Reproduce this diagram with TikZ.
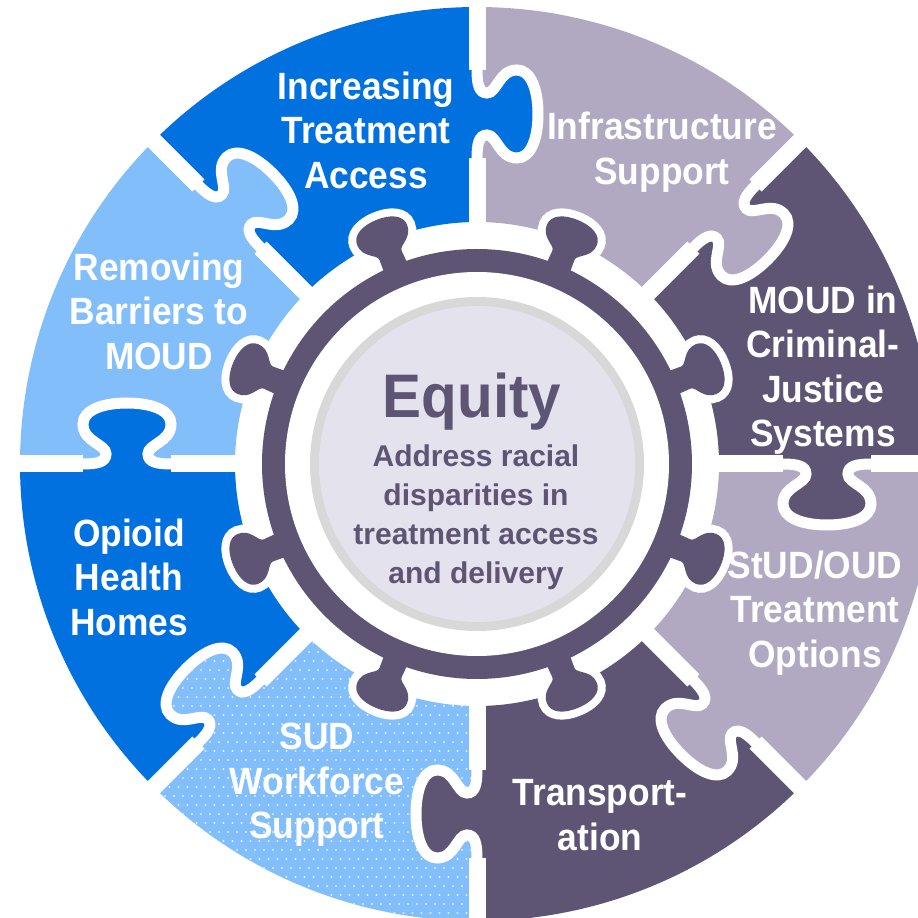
\documentclass[tikz,border=0pt]{standalone}
\usepackage{fontspec}
\newfontfamily\labfont{Liberation Sans}[FakeStretch=0.93]
\newfontfamily\eqfont{Liberation Sans}[FakeStretch=0.95]
\newfontfamily\subfont{Liberation Sans}
\definecolor{cblue}{RGB}{0,113,222}
\definecolor{clblue}{RGB}{130,190,250}
\definecolor{clgrey}{RGB}{177,169,194}
\definecolor{cdark}{RGB}{94,85,117}
\definecolor{cfill}{RGB}{228,226,236}
\definecolor{cborder}{RGB}{216,216,216}
\tikzset{
  lab/.style={text=white, align=center, font={\labfont\bfseries\fontsize{38}{44.5}\selectfont}},
  eqtext/.style={text=cdark, font={\eqfont\bfseries\fontsize{61.5}{70}\selectfont}},
  subtext/.style={text=cdark, align=center, font={\subfont\bfseries\fontsize{30}{38.9}\selectfont}},
  gapline/.style={white, line width=17},
  tabline/.style={white, line width=11},
  dotmark/.style={white, opacity=0.75}
}
\begin{document}
\begin{tikzpicture}[x=1pt,y=1pt]
\useasboundingbox (-477,-454) rectangle (441,464);
% sectors
\foreach \k/\c in {0/cdark,1/clgrey,2/cblue,3/clblue,4/cblue,5/clblue,6/cdark,7/clgrey}{
  \fill[\c] (45*\k:242) arc[start angle=45*\k, end angle=45*\k+45, radius=242]
     -- (45*\k+45:457) arc[start angle=45*\k+45, end angle=45*\k, radius=457] -- cycle;
}
% tabs (owned by the piece above each boundary)
\foreach \k/\c in {0/cdark,1/clgrey,2/cblue,3/clblue,4/cblue,5/clblue,6/cdark,7/clgrey}{
  \begin{scope}[rotate=45*\k]
  \fill[\c] (300,1) -- (306,0) .. controls (320,0) and (329,-2) .. (329,-10)
     .. controls (329,-20) and (306,-22) .. (306,-40)
     .. controls (306,-54) and (326,-61) .. (350,-61)
     .. controls (374,-61) and (394,-54) .. (394,-40)
     .. controls (394,-22) and (371,-20) .. (371,-10)
     .. controls (371,-2) and (380,0) .. (394,0) -- (400,1) -- cycle;
  \end{scope}
}
% dots in SUD piece
\begin{scope}
  \clip (225:242) arc[start angle=225, end angle=270, radius=242]
     -- (270:457) arc[start angle=270, end angle=225, radius=457] -- cycle;
  \foreach \j in {0,...,52}{
    \foreach \i in {0,...,37}{
      \fill[dotmark] ({-330+9*\i+4.5*mod(\j,2)},{-458+9*\j}) circle[radius=1.1];
    }
  }
\end{scope}
\begin{scope}[rotate=225]
  \clip (300,1) -- (306,0) .. controls (320,0) and (329,-2) .. (329,-10)
     .. controls (329,-20) and (306,-22) .. (306,-40)
     .. controls (306,-54) and (326,-61) .. (350,-61)
     .. controls (374,-61) and (394,-54) .. (394,-40)
     .. controls (394,-22) and (371,-20) .. (371,-10)
     .. controls (371,-2) and (380,0) .. (394,0) -- (400,1) -- cycle;
  \begin{scope}[rotate=-225]
  \foreach \j in {16,...,34}{
    \foreach \i in {0,...,16}{
      \fill[dotmark] ({-330+9*\i+4.5*mod(\j,2)},{-458+9*\j}) circle[radius=1.1];
    }
  }
  \end{scope}
\end{scope}
% redraw transportation tab over the dots
\begin{scope}[rotate=270]
  \fill[cdark] (300,1) -- (306,0) .. controls (320,0) and (329,-2) .. (329,-10)
     .. controls (329,-20) and (306,-22) .. (306,-40)
     .. controls (306,-54) and (326,-61) .. (350,-61)
     .. controls (374,-61) and (394,-54) .. (394,-40)
     .. controls (394,-22) and (371,-20) .. (371,-10)
     .. controls (371,-2) and (380,0) .. (394,0) -- (400,1) -- cycle;
\end{scope}
% white gaps
\foreach \k in {0,...,7}{
  \begin{scope}[rotate=45*\k]
  \draw[gapline] (228,0) -- (306,0) (394,0) -- (472,0);
  \draw[tabline] (304,0) -- (306,0) .. controls (320,0) and (329,-2) .. (329,-10)
     .. controls (329,-20) and (306,-22) .. (306,-40)
     .. controls (306,-54) and (326,-61) .. (350,-61)
     .. controls (374,-61) and (394,-54) .. (394,-40)
     .. controls (394,-22) and (371,-20) .. (371,-10)
     .. controls (371,-2) and (380,0) .. (394,0) -- (396,0);
  \end{scope}
}
% ring with bumps
\draw[white, line width=16] (0,0) circle[radius=215];
\foreach \k in {0,...,7}{
  \begin{scope}[rotate=22.5+45*\k]
  \draw[white, line width=16] (200,-13) -- (226,-12) .. controls (232,-12) and (234,-27) .. (248,-27)
     .. controls (258,-27) and (264,-16) .. (264,0)
     .. controls (264,16) and (258,27) .. (248,27)
     .. controls (234,27) and (232,12) .. (226,12) -- (200,13) -- cycle;
  \end{scope}
}
\fill[cdark] (0,0) circle[radius=215];
\foreach \k in {0,...,7}{
  \begin{scope}[rotate=22.5+45*\k]
  \fill[cdark] (200,-13) -- (226,-12) .. controls (232,-12) and (234,-27) .. (248,-27)
     .. controls (258,-27) and (264,-16) .. (264,0)
     .. controls (264,16) and (258,27) .. (248,27)
     .. controls (234,27) and (232,12) .. (226,12) -- (200,13) -- cycle;
  \end{scope}
}
\fill[white] (0,0) circle[radius=192];
\fill[cborder] (0,0) circle[radius=167];
\fill[cfill] (0,0) circle[radius=158];
% labels
\node[lab] (inc) at (-111,334) {Increasing\\Treatment\\Access};
\node[lab] (inf) at (185,312) {Infrastructure\\Support};
\node[lab] (moud) at (346,94) {MOUD in\\Criminal-\\Justice\\Systems};
\node[lab] (stud) at (338,-149) {StUD/OUD\\Treatment\\Options};
\node[lab] (tra) at (123,-351) {Transport-\\ation};
\node[lab] (sud) at (-160,-321) {SUD\\Workforce\\Support};
\node[lab] (opi) at (-348,-113) {Opioid\\Health\\Homes};
\node[lab] (rem) at (-318,153) {Removing\\Barriers to\\MOUD};
\node[eqtext, anchor=base] (eq) at (-5,46) {Equity};
\node[subtext] (sub) at (-1,-53) {Address racial\\disparities in\\treatment access\\and delivery};
\end{tikzpicture}
\end{document}
